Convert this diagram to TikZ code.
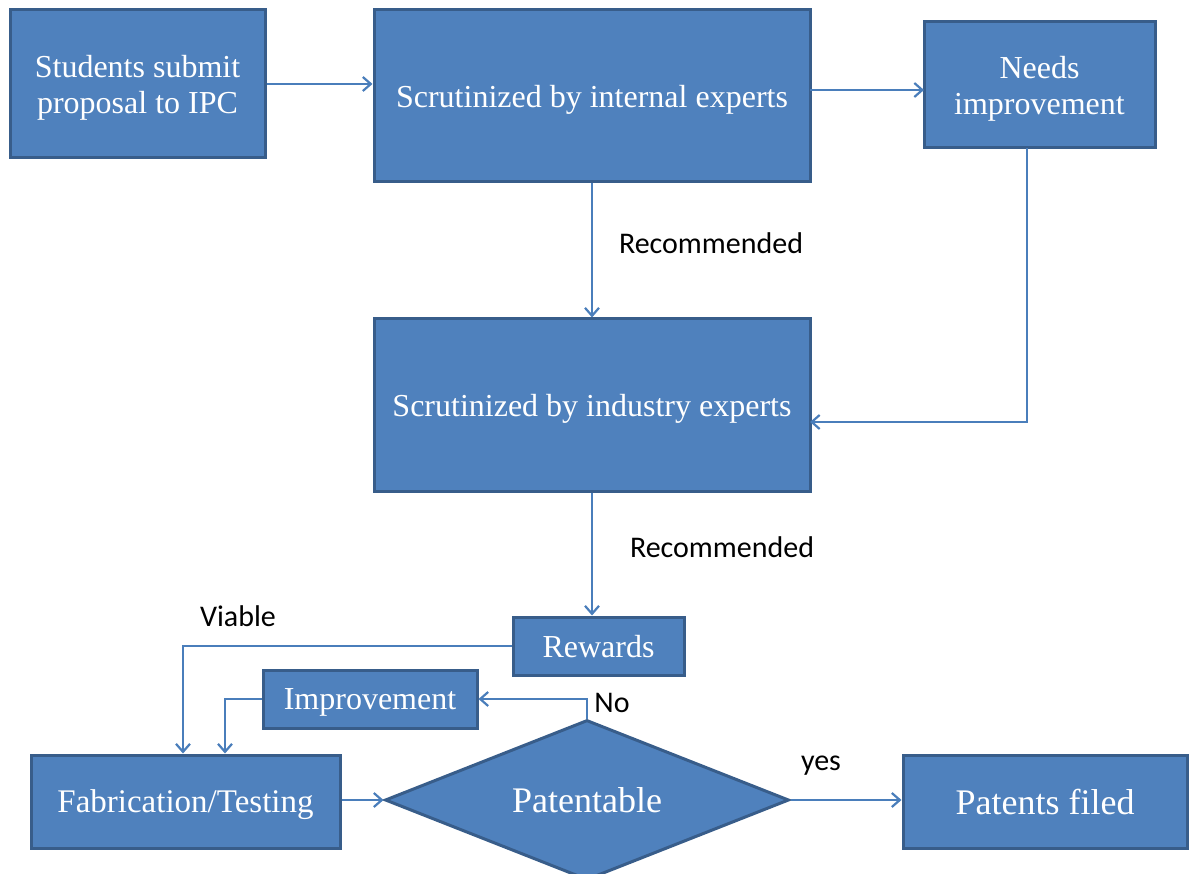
\documentclass[tikz,border=0pt]{standalone}
\usepackage{fontspec}
\setmainfont{Liberation Serif}
\newfontfamily\lblfont{Carlito}
\usetikzlibrary{shapes.geometric,arrows.meta}
\definecolor{boxfill}{HTML}{4F81BD}
\definecolor{boxline}{HTML}{385D8A}
\definecolor{conn}{HTML}{4A7EBB}
\begin{document}
\begin{tikzpicture}[x=1pt,y=-1pt,
  box/.style={draw=boxline,line width=3pt,fill=boxfill,text=white,font=\fontsize{32}{36}\selectfont,align=center,inner sep=0pt,text depth=0pt},
  dia/.style={draw=boxline,line width=3pt,fill=boxfill,text=white,font=\fontsize{36}{40}\selectfont,diamond,aspect=2.5,inner sep=0pt},
  conn/.style={draw=conn,line width=2.2pt,-{Straight Barb[length=8pt,width=14pt,line width=2.2pt]}},
  lbl/.style={font=\lblfont\fontsize{30}{34}\selectfont,text=black}]
\useasboundingbox (0,0) rectangle (1197,874);
\begin{scope}
\clip (0,0) rectangle (1197,874);
\node[box,minimum width=255pt,minimum height=148pt] (stud) at (137.5,84) {Students submit\\proposal to IPC};
\node[box,minimum width=436pt,minimum height=172pt] (int) at (592,96) {Scrutinized by internal experts};
\node[box,minimum width=231pt,minimum height=126pt] (need) at (1039.5,85) {Needs\\improvement};
\node[box,minimum width=436pt,minimum height=172pt] (ind) at (592,405) {Scrutinized by industry experts};
\node[box,minimum width=171pt,minimum height=58pt] (rew) at (598.5,646) {Rewards};
\node[box,minimum width=214pt,minimum height=58pt] (imp) at (370,699) {Improvement};
\node[box,minimum width=309pt,minimum height=93pt,font=\fontsize{33}{36}\selectfont] (fab) at (185.5,801.5) {Fabrication/Testing};
\node[box,minimum width=284pt,minimum height=93pt,font=\fontsize{36}{40}\selectfont] (pat) at (1045,801.5) {Patents filed};
\node[dia,minimum width=404pt,minimum height=160pt] (dec) at (587,800) {Patentable};
\end{scope}
\coordinate (a1) at (810,90);
\coordinate (a2) at (924,90);
\coordinate (nb) at (1027,148);
\coordinate (nr) at (1027,422);
\coordinate (ir) at (810,422);
\coordinate (vx) at (183,646);
\coordinate (ix) at (225,699);
\coordinate (dn) at (587,699);
\draw[conn] (stud.east) -- (stud.east -| int.west);
\draw[conn] (a1) -- (a2);
\draw[conn] (int.south) -- (ind.north);
\draw[conn] (nb) -- (nr) -- (ir);
\draw[conn] (ind.south) -- (ind.south |- rew.north);
\draw[conn] (rew.west) -- (vx) -- (vx |- fab.north);
\draw[conn] (imp.west) -- (ix) -- (ix |- fab.north);
\draw[conn] (dec.north) -- (dn) -- (imp.east);
\draw[conn] (fab.east |- dec.west) -- (dec.west);
\draw[conn] (dec.east) -- (dec.east -| pat.west);
\node[lbl] (l1) at (711,243) {Recommended};
\node[lbl] (l2) at (722,547) {Recommended};
\node[lbl] (l3) at (238,616) {Viable};
\node[lbl] (l4) at (612,703) {No};
\node[lbl] (l5) at (821,766) {yes};
\end{tikzpicture}
\end{document}
